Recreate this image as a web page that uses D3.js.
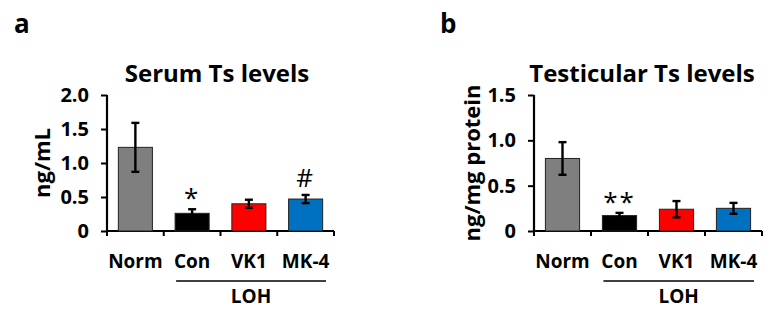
<!DOCTYPE html>
<html>
<head>
<meta charset="utf-8">
<script src="https://d3js.org/d3.v7.min.js"></script>
<style>
  body { margin: 0; background: #fff; }
  svg { display: block; font-family: "Open Sans", sans-serif; font-weight: bold; }
</style>
</head>
<body>
<svg width="775" height="315"></svg>
<script>
// groups and colours
var groups = ["Norm", "Con", "VK1", "MK-4"];
var colors = ["#7f7f7f", "#000000", "#ff0000", "#0070c0"];

// panel a: serum testosterone
var serumMean = [1.23, 0.26, 0.40, 0.47];
var serumErr  = [0.36, 0.06, 0.06, 0.06];
var serumMarks = ["", "*", "", "#"];
var serumTicks = [0, 0.5, 1.0, 1.5, 2.0];

// panel b: testicular testosterone
var testisMean = [0.80, 0.17, 0.24, 0.25];
var testisErr  = [0.18, 0.03, 0.09, 0.06];
var testisMarks = ["", "**", "", ""];
var testisTicks = [0, 0.5, 1.0, 1.5];

var svg = d3.select("svg");

function fmt(d) { return d === 0 ? "0" : d3.format(".1f")(d); }

function drawPanel(opt) {
  var g = svg.append("g");
  var x0 = opt.left, x1 = opt.right, yTop = 95, yBot = 231;

  var x = d3.scaleBand().domain(groups).range([x0, x1]).paddingInner(0.4).paddingOuter(0.2);
  var y = d3.scaleLinear().domain([0, opt.max]).range([yBot, yTop]);

  // panel letter
  g.append("text").attr("x", opt.letterX).attr("y", 33)
    .style("font-size", "26px").text(opt.letter);

  // title
  g.append("text").attr("x", opt.titleX).attr("y", 82)
    .attr("text-anchor", "middle").style("font-size", "24px").text(opt.title);

  // y axis
  var ya = g.append("g").attr("transform", "translate(" + x0 + ",0)")
    .call(d3.axisLeft(y).tickValues(opt.ticks).tickFormat(fmt).tickSizeOuter(0).tickSize(6).tickPadding(12));
  ya.select(".domain").attr("stroke-width", 2.2).attr("d", "M0," + (yTop) + "V" + yBot);
  ya.selectAll(".tick line").attr("stroke-width", 2);
  ya.selectAll("text").style("font-size", "20px").style("font-family", "Open Sans").style("font-weight", "bold").attr("fill", "#000");

  // x axis baseline with ticks between groups
  var bounds = [x0].concat(groups.slice(1).map(function(d) { return x(d) - x.step() * x.paddingInner() / 2; })).concat([x1]);
  g.append("line").attr("x1", x0 - 1).attr("x2", x1).attr("y1", yBot).attr("y2", yBot)
    .attr("stroke", "#000").attr("stroke-width", 2.2);
  g.selectAll(".xt").data(bounds).enter().append("line")
    .attr("x1", function(d) { return d; }).attr("x2", function(d) { return d; })
    .attr("y1", yBot).attr("y2", yBot + 5).attr("stroke", "#000").attr("stroke-width", 2);

  // bars
  g.selectAll(".bar").data(opt.mean).enter().append("rect")
    .attr("x", function(d, i) { return x(groups[i]); })
    .attr("y", function(d) { return y(d); })
    .attr("width", x.bandwidth())
    .attr("height", function(d) { return yBot - y(d); })
    .attr("fill", function(d, i) { return colors[i]; })
    .attr("stroke", "#222").attr("stroke-width", 1);

  // error bars
  var eb = g.selectAll(".err").data(opt.mean).enter().append("g");
  eb.append("line")
    .attr("x1", function(d, i) { return x(groups[i]) + x.bandwidth() / 2; })
    .attr("x2", function(d, i) { return x(groups[i]) + x.bandwidth() / 2; })
    .attr("y1", function(d, i) { return y(d - opt.err[i]); })
    .attr("y2", function(d, i) { return y(d + opt.err[i]); })
    .attr("stroke", "#000").attr("stroke-width", 2.4);
  [-1, 1].forEach(function(s) {
    eb.append("line")
      .attr("x1", function(d, i) { return x(groups[i]) + x.bandwidth() / 2 - 4; })
      .attr("x2", function(d, i) { return x(groups[i]) + x.bandwidth() / 2 + 4; })
      .attr("y1", function(d, i) { return y(d + s * opt.err[i]); })
      .attr("y2", function(d, i) { return y(d + s * opt.err[i]); })
      .attr("stroke", "#000").attr("stroke-width", 2.4);
  });

  // significance marks
  g.selectAll(".mark").data(opt.marks).enter().append("text")
    .attr("x", function(d, i) { return x(groups[i]) + x.bandwidth() / 2; })
    .attr("y", function(d, i) { return y(opt.mean[i] + opt.err[i]) - (d === "#" ? 8 : 2); })
    .attr("text-anchor", "middle")
    .style("font-size", "26px")
    .style("font-weight", "normal")
    .style("letter-spacing", "2px")
    .text(function(d) { return d; });

  // group labels
  g.selectAll(".lab").data(groups).enter().append("text")
    .attr("x", function(d) { return x(d) + x.bandwidth() / 2; })
    .attr("y", 268).attr("text-anchor", "middle").style("font-size", "19px")
    .text(function(d) { return d; });

  // LOH bracket
  var lx0 = x("Con") + 1, lx1 = x1 - 8;
  g.append("line").attr("x1", lx0).attr("x2", lx1).attr("y1", 281).attr("y2", 281)
    .attr("stroke", "#000").attr("stroke-width", 1.6);
  g.append("text").attr("x", (lx0 + lx1) / 2).attr("y", 303).attr("text-anchor", "middle")
    .style("font-size", "19px").text("LOH");

  // y axis title
  g.append("text")
    .attr("transform", "translate(" + opt.ylabX + "," + opt.ylabY + ") rotate(-90)")
    .attr("text-anchor", "middle").style("font-size", "22px").text(opt.ylab);
}

drawPanel({
  left: 107, right: 334, max: 2.0, ticks: serumTicks,
  mean: serumMean, err: serumErr, marks: serumMarks,
  title: "Serum Ts levels", titleX: 217, ylab: "ng/mL", ylabX: 50, ylabY: 163,
  letter: "a", letterX: 14
});

drawPanel({
  left: 534, right: 762, max: 1.5, ticks: testisTicks,
  mean: testisMean, err: testisErr, marks: testisMarks,
  title: "Testicular Ts levels", titleX: 642, ylab: "ng/mg protein", ylabX: 480, ylabY: 163,
  letter: "b", letterX: 440
});
</script>
</body>
</html>
